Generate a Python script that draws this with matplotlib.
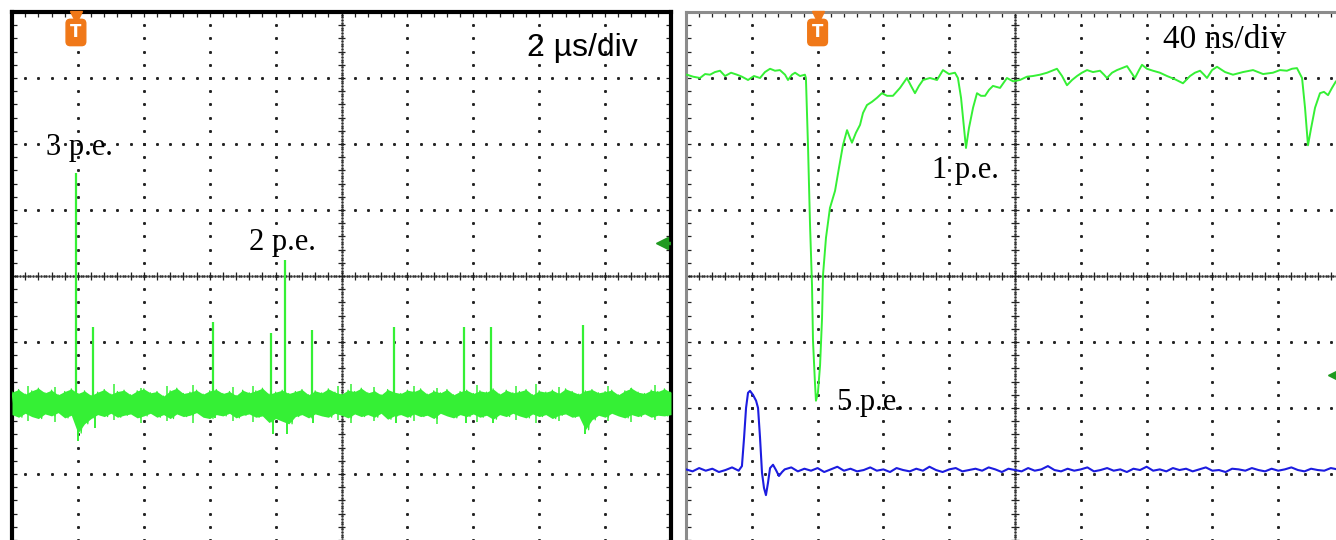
import numpy as np
import matplotlib.pyplot as plt

# ---------------- data (values in screen divisions) ----------------
# left screen: 2 us/div, dark-count pulses on a noisy baseline
noise_t = np.arange(0, 20.01, 0.2)   # us
noise_hi = [
    -1.76, -1.72, -1.79, -1.74, -1.70, -1.77, -1.73, -1.80, -1.75, -1.71,
    -1.78, -1.74, -1.81, -1.76, -1.72, -1.79, -1.75, -1.73, -1.80, -1.74,
    -1.71, -1.77, -1.75, -1.82, -1.74, -1.70, -1.78, -1.76, -1.73, -1.79,
    -1.74, -1.72, -1.78, -1.75, -1.81, -1.73, -1.77, -1.74, -1.70, -1.79,
    -1.76, -1.73, -1.78, -1.75, -1.72, -1.80, -1.74, -1.77, -1.71, -1.76,
    -1.79, -1.73, -1.75, -1.70, -1.77, -1.74, -1.80, -1.72, -1.76, -1.78,
    -1.73, -1.75, -1.71, -1.79, -1.74, -1.77, -1.72, -1.80, -1.75, -1.73,
    -1.78, -1.74, -1.76, -1.71, -1.79, -1.73, -1.77, -1.75, -1.72, -1.80,
    -1.74, -1.76, -1.73, -1.78, -1.71, -1.75, -1.79, -1.74, -1.72, -1.77,
    -1.75, -1.73, -1.80, -1.74, -1.70, -1.76, -1.78, -1.73, -1.75, -1.71,
    -1.76]
noise_lo = [
    -2.10, -2.14, -2.08, -2.13, -2.16, -2.09, -2.12, -2.07, -2.15, -2.11,
    -2.38, -2.24, -2.16, -2.10, -2.13, -2.08, -2.14, -2.11, -2.09, -2.15,
    -2.12, -2.08, -2.14, -2.10, -2.16, -2.09, -2.13, -2.11, -2.07, -2.14,
    -2.16, -2.10, -2.12, -2.08, -2.15, -2.11, -2.09, -2.14, -2.12, -2.22,
    -2.16, -2.20, -2.24, -2.13, -2.10, -2.15, -2.09, -2.12, -2.14, -2.08,
    -2.11, -2.15, -2.09, -2.13, -2.10, -2.14, -2.08, -2.17, -2.12, -2.10,
    -2.14, -2.09, -2.13, -2.11, -2.16, -2.08, -2.12, -2.15, -2.10, -2.13,
    -2.09, -2.14, -2.11, -2.17, -2.10, -2.13, -2.08, -2.12, -2.15, -2.09,
    -2.13, -2.10, -2.16, -2.11, -2.09, -2.14, -2.12, -2.33, -2.18, -2.11,
    -2.14, -2.08, -2.12, -2.15, -2.10, -2.13, -2.09, -2.14, -2.11, -2.12,
    -2.10]
# isolated noise excursions that stick out of the band
burst_t = [0.5, 1.3, 3.1, 3.9, 4.7, 5.5, 6.7, 7.3, 9.9, 10.3, 11.0, 12.2,
           12.9, 14.1, 15.3, 15.9, 16.6, 18.1, 18.8, 19.5]
burst_up = [-1.66, -1.68, -1.64, -1.69, -1.67, -1.65, -1.68, -1.66, -1.67, -1.63,
            -1.68, -1.66, -1.69, -1.65, -1.67, -1.64, -1.68, -1.66, -1.69, -1.65]
burst_dn = [-2.19, -2.21, -2.18, -2.22, -2.20, -2.23, -2.19, -2.21, -2.18, -2.22,
            -2.20, -2.19, -2.24, -2.21, -2.18, -2.22, -2.20, -2.19, -2.21, -2.18]
baseline_left = -1.92
spike_t = [1.94, 2.45, 6.09, 7.85, 8.30, 9.09, 11.58, 13.73, 14.55, 17.33]
spike_top = [1.56, -0.77, -0.70, -0.86, 0.24, -0.82, -0.77, -0.77, -0.77, -0.74]
spike_dip = [-2.50, -2.30, -2.15, -2.39, -2.39, -2.23, -2.23, -2.23, -2.23, -2.39]

# right screen: 40 ns/div, 5 p.e. pulse (green) and its shaped signal (blue)
green_t = [0.6, 4.3, 8.5, 11.6, 14.6, 17.6, 20.7, 23.7, 27.4, 31.0, 34.0, 37.7,
           41.3, 45.0, 48.0, 51.1, 54.1, 57.1, 60.2, 62.0, 64.4, 66.3, 69.3, 72.3,
           72.9, 74.2, 75.4, 76.6, 77.2, 78.4, 79.0, 80.2, 81.5, 82.7, 83.3, 85.1,
           87.5, 90.6, 93.0, 95.4, 97.9, 99.7, 100.9, 103.3, 105.8, 107.6, 110.0,
           113.1, 116.1, 119.1, 122.2, 125.8, 130.1, 134.3, 136.8, 139.2, 141.6,
           144.1, 148.3, 152.6, 156.2, 159.9, 163.5, 165.3, 167.2, 169.0, 170.2,
           172.0, 174.5, 176.9, 179.3, 181.8, 184.2, 186.6, 190.9, 195.1, 198.8,
           203.0, 207.3, 210.9, 215.2, 219.5, 222.5, 225.5, 228.6, 231.6, 234.7,
           237.7, 240.7, 243.8, 247.4, 251.7, 254.1, 255.9, 259.0, 262.0, 265.0,
           268.1, 270.5, 272.9, 275.4, 277.2, 280.2, 283.9, 288.1, 292.4, 297.3,
           302.1, 306.4, 309.4, 312.5, 314.9, 316.7, 319.8, 322.8, 327.7, 332.5,
           338.6, 344.7, 350.8, 356.8, 361.1, 365.3, 368.4, 371.4, 374.5, 376.3,
           378.1, 380.0, 382.4, 385.4, 387.8, 390.3, 392.7, 395.1, 400.0]
green_v = [3.05, 3.02, 3.00, 3.06, 3.05, 3.09, 3.11, 3.03, 3.08, 3.05, 3.02, 2.97,
           3.03, 3.00, 3.09, 3.14, 3.11, 3.12, 3.05, 2.97, 3.05, 3.08, 3.03, 3.05,
           3.00, 1.94, 0.77, -0.14, -0.98, -1.62, -1.89, -1.77, -1.35, -0.64, 0.02, 0.58,
           1.03, 1.29, 1.64, 1.98, 2.21, 2.09, 2.02, 2.17, 2.29, 2.47, 2.59,
           2.64, 2.70, 2.77, 2.73, 2.73, 2.85, 3.00, 2.88, 2.77, 2.88,
           2.97, 3.00, 2.97, 3.12, 3.06, 3.08, 3.00, 2.70, 2.24, 1.94,
           2.24, 2.55, 2.77, 2.73, 2.73, 2.82, 2.88, 2.85, 3.00, 2.95,
           2.97, 3.02, 3.03, 3.05, 3.08, 3.11, 3.14, 3.03, 2.89, 2.97,
           3.03, 3.08, 3.12, 3.09, 3.11, 3.05, 3.00, 3.08, 3.12, 3.15,
           3.18, 3.09, 3.00, 3.12, 3.20, 3.14, 3.11, 3.08, 3.03, 2.98,
           2.92, 3.03, 3.08, 3.11, 3.05, 3.00, 3.12, 3.17, 3.09, 3.05,
           3.09, 3.12, 3.06, 3.08, 3.12, 3.11, 3.14, 3.15, 3.00, 2.55,
           1.98, 2.24, 2.55, 2.77, 2.79, 2.74, 2.85, 2.95, 2.97]

blue_t = ([0, 4, 8, 12, 16, 20, 24, 28, 32]
          + [34.0, 35.3, 36.5, 37.7, 38.9, 40.7, 42.6, 43.8, 45.0, 46.2, 47.4,
             48.6, 49.8, 51.1, 52.9, 54.7, 56.5, 58.4]
          + list(range(60, 401, 4)))
blue_v = ([-2.93, -2.96, -2.91, -2.95, -2.92, -2.97, -2.94, -2.90, -2.95]
          + [-2.88, -2.45, -2.00, -1.77, -1.74, -1.80, -1.89, -2.00, -2.45, -2.98,
             -3.21, -3.32, -3.14, -2.91, -2.86, -2.94, -3.03, -2.97]
          + [-2.93, -2.90, -2.96, -2.92, -2.95, -2.91, -2.97, -2.93, -2.89, -2.95,
             -2.92, -2.96, -2.94, -2.90, -2.95, -2.93, -2.97, -2.91, -2.94, -2.96,
             -2.92, -2.95, -2.89, -2.94, -2.97, -2.93, -2.91, -2.96, -2.94, -2.92,
             -2.95, -2.90, -2.93, -2.97, -2.92, -2.94, -2.96, -2.91, -2.95, -2.93,
             -2.88, -2.94, -2.96, -2.92, -2.95, -2.93, -2.90, -2.96, -2.94, -2.91,
             -2.95, -2.93, -2.97, -2.92, -2.94, -2.89, -2.95, -2.93, -2.96, -2.91,
             -2.94, -2.92, -2.96, -2.93, -2.90, -2.95, -2.94, -2.97, -2.92, -2.93,
             -2.95, -2.91, -2.94, -2.96, -2.92, -2.95, -2.93, -2.90, -2.94, -2.96,
             -2.92, -2.94, -2.95, -2.91, -2.93, -2.94])

# ---------------- drawing ----------------
GREEN = '#35f035'
BLUE = '#1c1ce0'
ORANGE = '#f07818'
MARK = '#1f9a1f'
W, H = 1336, 540

fig = plt.figure(figsize=(W / 100, H / 100), dpi=100)


def px_axes(l, t, w, h):
    return fig.add_axes([l / W, 1 - (t + h) / H, w / W, h / H])


def screen(ax, edge, lw):
    ax.set_xlim(0, 10)
    ax.set_ylim(-4, 4)
    ax.set_xticks([])
    ax.set_yticks([])
    for s in ax.spines.values():
        s.set_color(edge)
        s.set_linewidth(lw)
    ax.spines['bottom'].set_visible(False)
    fine = np.arange(-4, 4.01, 0.2)
    finex = np.arange(0, 10.01, 0.2)
    for k in range(1, 10):
        if k != 5:
            ax.plot(np.full(fine.size, k), fine, ls='none', marker='s',
                    ms=1.1, color='#222222', zorder=1)
    for j in range(-3, 4):
        if j != 0:
            ax.plot(finex, np.full(finex.size, j), ls='none', marker='s',
                    ms=1.1, color='#222222', zorder=1)
    # centre cross with dense dots and minor ticks
    dense_y = np.arange(-4, 4.01, 0.04)
    dense_x = np.arange(0, 10.01, 0.04)
    ax.plot(np.full(dense_y.size, 5), dense_y, ls='none', marker='s', ms=0.8,
            color='#333333', zorder=1)
    ax.plot(dense_x, np.zeros(dense_x.size), ls='none', marker='s', ms=0.8,
            color='#333333', zorder=1)
    ax.hlines(fine, 4.94, 5.06, color='#222222', lw=0.9, zorder=1)
    ax.vlines(finex, -0.06, 0.06, color='#222222', lw=0.9, zorder=1)
    # ticks along the frame
    ax.hlines(fine, 0, 0.08, color='#222222', lw=0.9, zorder=1)
    ax.hlines(fine, 9.92, 10, color='#222222', lw=0.9, zorder=1)
    ax.vlines(finex, 3.93, 4, color='#222222', lw=0.9, zorder=1)


def trigger(ax, x):
    ax.plot(x, 3.93, marker='v', ms=8, color=ORANGE, clip_on=False, zorder=6)
    ax.text(x, 3.69, 'T', ha='center', va='center', color='white',
            fontsize=12, fontweight='bold', family='DejaVu Sans', zorder=6,
            bbox=dict(boxstyle='round,pad=0.25', fc=ORANGE, ec=ORANGE))


# left screen
axl = px_axes(12, 12, 659, 528)
screen(axl, 'black', 3)
tl = noise_t / 2.0
axl.fill_between(tl, noise_lo, noise_hi, color=GREEN, lw=0, zorder=3)
zx = np.ravel(np.column_stack([tl, tl + 0.05]))
zy = np.ravel(np.column_stack([noise_hi, noise_lo]))
axl.plot(zx, zy, color=GREEN, lw=0.9, zorder=3)
bt = np.array(burst_t) / 2.0
axl.vlines(bt, burst_dn, burst_up, color=GREEN, lw=1.1, zorder=3)
st = np.array(spike_t) / 2.0
axl.vlines(st, baseline_left, spike_top, color=GREEN, lw=1.6, zorder=4)
axl.vlines(st + 0.03, spike_dip, baseline_left, color=GREEN, lw=1.4, zorder=4)
trigger(axl, 0.97)
axl.plot(9.86, 0.5, marker='<', ms=9, color=MARK, zorder=5)
axl.plot([9.86, 9.97], [0.5, 0.5], color=MARK, lw=2.5, zorder=5)
axl.text(8.65, 3.33, '2 \u00b5s/div', ha='center', va='baseline',
         fontsize=23, family='Liberation Sans', zorder=6)
axl.text(1.03, 1.83, '3 p.e.', ha='center', va='baseline',
         fontsize=22, family='Liberation Serif', zorder=6)
axl.text(4.10, 0.39, '2 p.e.', ha='center', va='baseline',
         fontsize=22, family='Liberation Serif', zorder=6)

# right screen
axr = px_axes(686, 12, 658, 528)
screen(axr, '#8c8c8c', 2.2)
axr.plot(np.array(green_t) / 40.0, green_v, color=GREEN, lw=1.4, zorder=3)
axr.plot(np.array(blue_t) / 40.0, blue_v, color=BLUE, lw=1.5, zorder=3)
trigger(axr, 2.0)
axr.plot(9.86, -1.5, marker='<', ms=10, color=MARK, zorder=5)
axr.text(8.19, 3.45, '40 ns/div', ha='center', va='baseline',
         fontsize=24, family='Liberation Serif', zorder=6)
axr.text(4.24, 1.48, '1 p.e.', ha='center', va='baseline',
         fontsize=22, family='Liberation Serif', zorder=6)
axr.text(2.81, -2.03, '5 p.e.', ha='center', va='baseline',
         fontsize=22, family='Liberation Serif', zorder=6)

fig.savefig('out.png', dpi=100)
